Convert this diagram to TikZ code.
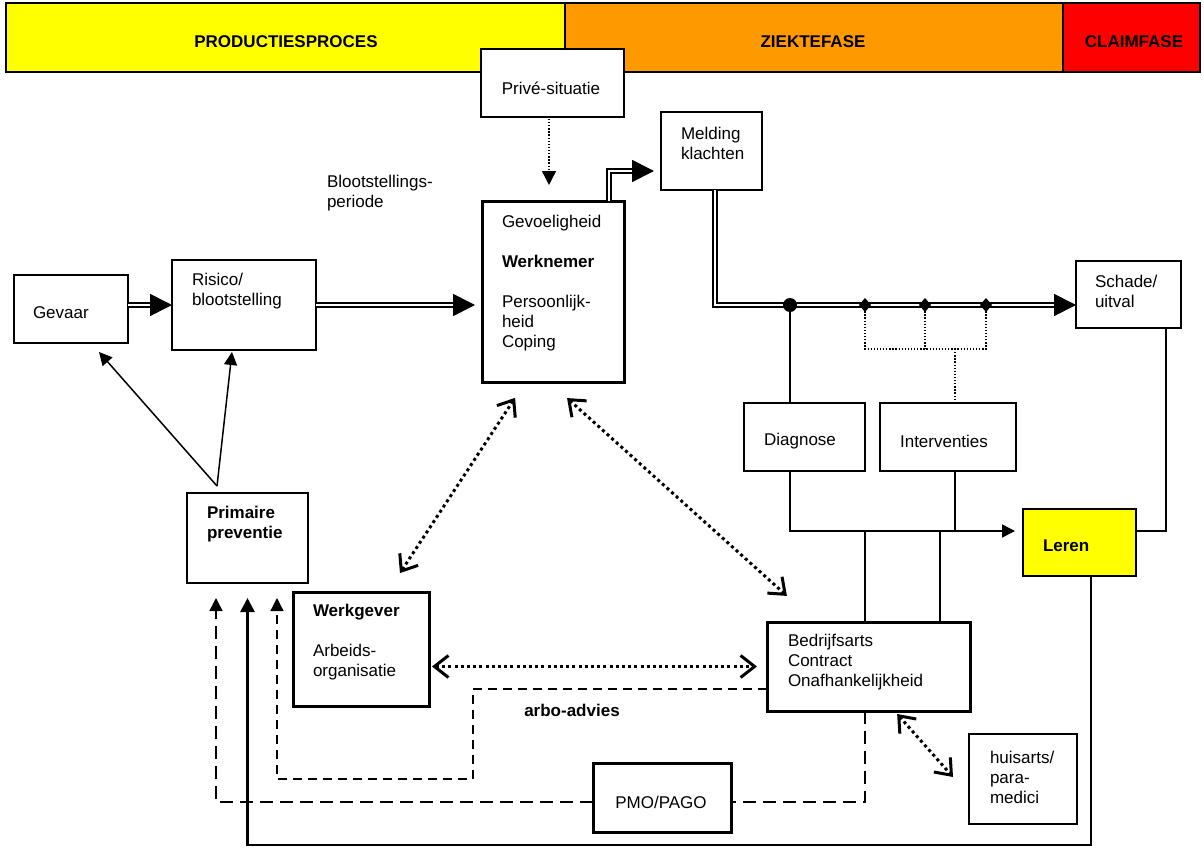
\documentclass[tikz,border=0pt]{standalone}
\usepackage{fontspec}
\setmainfont{Liberation Sans}
\usetikzlibrary{arrows.meta}
\definecolor{barY}{RGB}{255,255,0}
\definecolor{barO}{RGB}{255,153,0}
\definecolor{barR}{RGB}{255,0,0}
\begin{document}
\begin{tikzpicture}[x=1pt,y=-1pt,
  every node/.style={font=\fontsize{17}{20}\selectfont},
  box/.style={draw,line width=1.5pt,fill=white,rectangle,inner sep=0pt,outer sep=0pt},
  thickbox/.style={box,line width=3pt},
  sz/.style 2 args={minimum width=#1pt,minimum height=#2pt},
  phase/.style={draw,line width=1.3pt,rectangle,inner sep=0pt,outer sep=0pt},
  txt/.style={inner sep=0pt,outer sep=0pt,anchor=west,align=left},
  btxt/.style={txt,font=\fontsize{17}{20}\selectfont\bfseries},
  conn/.style={line width=1.5pt},
  tri/.style={-{Triangle[length=13pt,width=13pt]}},
  dbl/.style={double=white,double distance=2pt,line width=1.7pt,-{Triangle[length=22pt,width=22pt]}},
  dotbig/.style={line width=3pt,dash pattern=on 3pt off 3.2pt,
     {Straight Barb[length=14pt,width=22pt,line width=3pt]}-{Straight Barb[length=14pt,width=22pt,line width=3pt]}},
  dotthin/.style={line width=1.3pt,dash pattern=on 1.3pt off 1.8pt},
  dashouter/.style={line width=1.5pt,dash pattern=on 13pt off 7pt},
  dashinner/.style={line width=1.3pt,dash pattern=on 9pt off 6pt},
]
\useasboundingbox (0,0) rectangle (1204,848);

% phase bar
\node[phase,fill=barY,sz={559}{69}] (barP) at (285.5,37.5) {};
\node[phase,fill=barO,sz={498}{69}] (barZ) at (814,37.5) {};
\node[phase,fill=barR,sz={137}{69}] (barC) at (1131.5,37.5) {};
\node[btxt,anchor=center] (tP) at (286,42) {PRODUCTIESPROCES};
\node[btxt,anchor=center] (tZ) at (813,42) {ZIEKTEFASE};
\node[btxt,anchor=center] (tC) at (1134,42) {CLAIMFASE};

% boxes
\node[box,sz={143}{68}] (prive) at (552.5,83) {};
\node[box,sz={101}{78}] (melding) at (711.5,151) {};
\node[thickbox,sz={142}{181}] (werknemer) at (553,291.5) {};
\node[box,sz={114}{68}] (gevaar) at (71,309) {};
\node[box,sz={144}{90}] (risico) at (244,305) {};
\node[box,sz={121}{90}] (primaire) at (247.5,538) {};
\node[thickbox,sz={136}{114}] (werkgever) at (361,649) {};
\node[thickbox,sz={203}{89}] (bedrijfsarts) at (868.5,666.5) {};
\node[thickbox,sz={138}{69}] (pmo) at (662,797.5) {};
\node[box,sz={108}{90}] (huisarts) at (1023,779) {};
\node[box,sz={121}{68}] (diagnose) at (804.5,437) {};
\node[box,sz={136}{68}] (interventies) at (948,437) {};
\node[box,fill=barY,sz={113}{67}] (leren) at (1079.5,542.5) {};
\node[box,sz={105}{67}] (schade) at (1128.5,294.5) {};

% helper coordinates
\coordinate (j1) at (790,305);
\coordinate (d1) at (865,305);
\coordinate (d2) at (925,305);
\coordinate (d3) at (986,305);
\coordinate (dj) at (955,349);
\coordinate (ly) at (790,531);
\coordinate (b2) at (940,531);
\coordinate (pp) at (217,486);
\coordinate (bl) at (600,845);
\coordinate (ad) at (473,779);

% double-line flow
\draw[dbl] (gevaar.east |- risico.west) -- (risico.west);
\draw[dbl,shorten >=7pt] (risico.east) -- (risico.east -| werknemer.west);
\draw[dbl,shorten >=7pt] ([xshift=-15pt]werknemer.north east) |- ([yshift=19pt]melding.south west);
\draw[dbl] ([xshift=54pt]melding.south west) |- ([yshift=-10.5pt]schade.west);

% junctions
\fill (j1) circle (7pt);
\foreach \d in {d1,d2,d3}
  \fill (\d) ++(0,-7) -- ++(6,7) -- ++(-6,7) -- ++(-6,-7) -- cycle;

\draw[conn] (j1) -- (j1 |- diagnose.north);
\draw[dotthin] (d1) |- (d3 |- dj) -- (d3);
\draw[dotthin] (d2) -- (d2 |- dj);
\draw[dotthin] (dj) -- (dj |- interventies.north);

\draw[conn,tri,shorten >=8pt] (j1 |- diagnose.south) |- ([yshift=11.5pt]leren.west);
\draw[conn] (dj |- interventies.south) -- (dj |- ly);
\draw[conn] (d1 |- ly) -- (d1 |- bedrijfsarts.north);
\draw[conn] (b2) -- (b2 |- bedrijfsarts.north);
\draw[conn] ([yshift=11.5pt]leren.east) -| ([xshift=37.5pt]schade.south);

% feedback to primaire preventie
\draw[line width=2.7pt,-{Triangle[length=14pt,width=14pt]},shorten >=15pt]
  ([xshift=11.5pt]leren.south) |- (bl) -| (primaire.south);
\draw[dashouter] (bedrijfsarts.south -| d1) |- ([yshift=-4.5pt]pmo.east);
\draw[dashouter,tri,shorten >=15pt] ([yshift=-4.5pt]pmo.west) -| ([xshift=29pt]primaire.south west);
\draw[dashinner,tri,shorten >=15pt] ([yshift=-22.5pt]bedrijfsarts.west) -| (ad) -| ([xshift=-31pt]primaire.south east);

% dotted two-way arrows
\draw[dotbig,shorten <=19pt,shorten >=22.7pt] ([xshift=43.5pt]werknemer.south west) -- ([xshift=94.5pt]werkgever.north west);
\draw[dotbig,shorten <=24pt,shorten >=39pt] ([xshift=67.2pt]werknemer.south west) -- ([xshift=48.9pt]bedrijfsarts.north west);
\draw[dotbig,shorten <=3pt,shorten >=10pt] (werkgever.east |- bedrijfsarts.west) -- (bedrijfsarts.west);
\draw[dotbig,shorten <=4pt] ([xshift=127.5pt]bedrijfsarts.south west) -- ([xshift=-16pt,yshift=-43pt]huisarts.north west);

% prive situatie
\draw[dotthin,-{Triangle[length=14pt,width=14pt]},shorten >=16pt,shorten <=2pt]
  ([xshift=-3.5pt]prive.south) -- ([xshift=-3.5pt]prive.south |- werknemer.north);

% primaire preventie arrows
\draw[conn,tri] (pp) -- ([xshift=28pt,yshift=-9pt]gevaar.south);
\draw[conn,tri] (pp) -- ([xshift=-12pt,yshift=-2pt]risico.south);

% texts
\node[txt,anchor=center] (tprive) at (551,88) {Privé-situatie};
\node[txt] (tmelding) at (681,143) {Melding\\klachten};
\node[txt] (twerknemer) at (502,283) {Gevoeligheid\\[20pt]\textbf{Werknemer}\\[20pt]Persoonlijk-\\heid\\Coping};
\node[txt] (tbloot) at (327,193) {Blootstellings-\\periode};
\node[txt] (tgevaar) at (33,313) {Gevaar};
\node[txt] (trisico) at (192,291.5) {Risico/\\blootstelling};
\node[btxt] (tprim) at (207,524.5) {Primaire\\preventie};
\node[txt] (twerkgever) at (313,642) {\textbf{Werkgever}\\[20pt]Arbeids-\\organisatie};
\node[txt] (tbedrijf) at (788,662) {Bedrijfsarts\\Contract\\Onafhankelijkheid};
\node[btxt,anchor=center] (tarbo) at (572,710) {arbo-advies};
\node[txt,anchor=center] (tpmo) at (661,802) {PMO/PAGO};
\node[txt] (thuis) at (990,777) {huisarts/\\para-\\medici};
\node[txt,anchor=center] (tdiag) at (800,441) {Diagnose};
\node[txt,anchor=center] (tinterv) at (944,441) {Interventies};
\node[btxt] (tleren) at (1043,546) {Leren};
\node[txt] (tschade) at (1095,291) {Schade/\\uitval};
\end{tikzpicture}
\end{document}
